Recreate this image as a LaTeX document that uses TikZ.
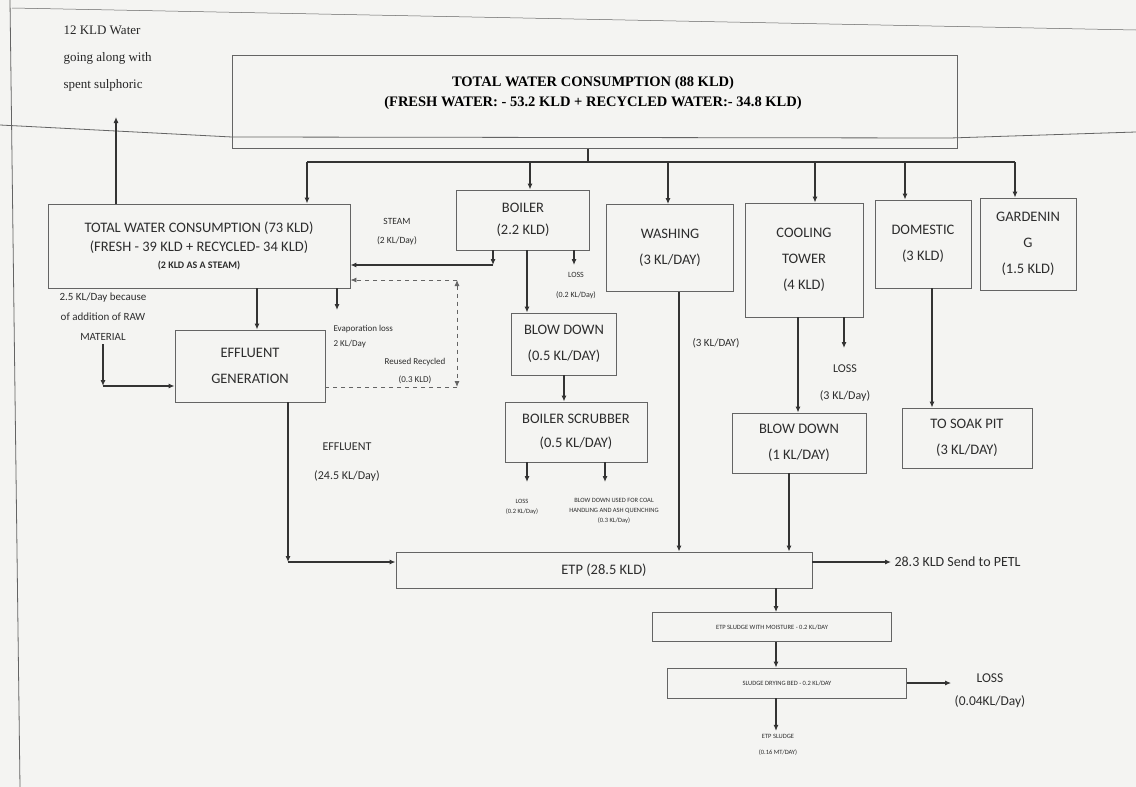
\documentclass[tikz,border=0pt]{standalone}
\usepackage{fontspec}
\setmainfont{Carlito}
\newfontfamily\serifbold{Liberation Serif}
\usetikzlibrary{arrows.meta,positioning,calc}
\definecolor{scanbg}{RGB}{244,244,242}
\definecolor{inkgray}{RGB}{45,45,45}
\definecolor{boxgray}{RGB}{100,100,100}

\begin{document}
\begin{tikzpicture}[x=1pt,y=-1pt,>={Latex[length=6pt,width=5pt]},
  every node/.style={font=\fontsize{14.5}{26}\selectfont,text=inkgray,align=center},
  flowbox/.style={draw=boxgray,line width=0.9pt,inner sep=2pt},
  note/.style={font=\fontsize{11}{20}\selectfont},
  smalltxt/.style={font=\fontsize{6.5}{10}\selectfont},
  flow/.style={draw=black!80,line width=1.1pt},
  recyc/.style={draw=boxgray,line width=0.9pt,dash pattern=on 4pt off 4pt}]
\fill[scanbg] (0,0) rectangle (1136,787);
\useasboundingbox (0,0) rectangle (1136,787);
% page edges of the scan
\draw[boxgray,line width=0.8pt] (10,0) -- (20,787);
\draw[boxgray,line width=0.5pt] (12,8) -- (1136,30);
\draw[boxgray,line width=0.8pt] (0,125) -- (232,137) -- (950,138) -- (1136,132);

% top
\node[flowbox,minimum width=725,minimum height=93] (tot) at (595,102) {};
\node[font=\serifbold\bfseries\fontsize{14.5}{20}\selectfont,text=black] (totlbl) at (593,93)
  {TOTAL WATER CONSUMPTION (88 KLD)\\(FRESH WATER: - 53.2 KLD + RECYCLED WATER:- 34.8 KLD)};
\node[font=\serifbold\fontsize{13}{27}\selectfont,text=black!85,align=left,anchor=north west] (sulph) at (60,22)
  {12 KLD Water\\going along with\\spent sulphoric};

% consumers
\node[flowbox,minimum width=302,minimum height=84] (twc) at (199,246)
  {TOTAL WATER CONSUMPTION (73 KLD)\\[-7pt](FRESH - 39 KLD + RECYCLED- 34 KLD)\\[-9pt]{\fontsize{10}{12}\selectfont\bfseries (2 KLD AS A STEAM)}};
\node[flowbox,minimum width=133,minimum height=60] (blr) at (523,220) {BOILER\\[-4pt](2.2 KLD)};
\node[flowbox,minimum width=127,minimum height=87] (wash) at (670,248) {WASHING\\(3 KL/DAY)};
\node[flowbox,minimum width=118,minimum height=114] (ct) at (804,260) {COOLING\\TOWER\\(4 KLD)};
\node[flowbox,minimum width=96,minimum height=88] (dom) at (923,244) {DOMESTIC\\(3 KLD)};
\node[flowbox,minimum width=96,minimum height=92] (gdn) at (1028,244) {GARDENIN\\G\\(1.5 KLD)};

% second level
\node[flowbox,minimum width=150,minimum height=72] (effl) at (250,366) {EFFLUENT\\GENERATION};
\node[flowbox,minimum width=105,minimum height=62] (bd1) at (564,344) {BLOW DOWN\\(0.5 KL/DAY)};
\node[flowbox,minimum width=142,minimum height=60] (scr) at (576,432) {BOILER SCRUBBER\\[-2pt](0.5 KL/DAY)};
\node[flowbox,minimum width=134,minimum height=60] (bd2) at (799,443) {BLOW DOWN\\(1 KL/DAY)};
\node[flowbox,minimum width=130,minimum height=60] (pit) at (967,438) {TO SOAK PIT\\(3 KL/DAY)};

% treatment
\node[flowbox,minimum width=416,minimum height=36] (etp) at (604,570) {ETP (28.5 KLD)};
\node[flowbox,smalltxt,minimum width=239,minimum height=29] (sl) at (772,627) {ETP SLUDGE WITH MOISTURE - 0.2 KL/DAY};
\node[flowbox,smalltxt,minimum width=239,minimum height=30] (sdb) at (787,683) {SLUDGE DRYING BED - 0.2 KL/DAY};

% labels
\node[note,font=\fontsize{9.5}{19}\selectfont] (steam) at (397,232) {STEAM\\(2 KL/Day)};
\node[smalltxt,font=\fontsize{8}{20}\selectfont] (blrloss) at (576,286) {LOSS\\(0.2 KL/Day)};
\node[note] (raw) at (103,317) {2.5 KL/Day because\\of addition of RAW\\MATERIAL};
\node[note,font=\fontsize{9}{15}\selectfont,align=left,anchor=west] (evap) at (330,337) {Evaporation loss\\2 KL/Day};
\node[note,font=\fontsize{9}{18}\selectfont] (reuse) at (415,371) {Reused Recycled\\(0.3 KLD)};
\node[note,font=\fontsize{12}{29}\selectfont] (efflq) at (347,462) {EFFLUENT\\(24.5 KL/Day)};
\node[note] (washq) at (716,343) {(3 KL/DAY)};
\node[note,font=\fontsize{12}{27}\selectfont] (ctloss) at (845,383) {LOSS\\(3 KL/Day)};
\node[smalltxt] (scrloss) at (522,507) {LOSS\\(0.2 KL/Day)};
\node[smalltxt] (coal) at (614,511) {BLOW DOWN USED FOR COAL\\HANDLING AND ASH QUENCHING\\(0.3 KL/Day)};
\node[font=\fontsize{14}{20}\selectfont,anchor=west] (petl) at (891,562) {28.3 KLD Send to PETL};
\node[font=\fontsize{13.5}{23}\selectfont] (loss2) at (990,691) {LOSS\\(0.04KL/Day)};
\node[smalltxt,font=\fontsize{6.5}{16}\selectfont] (etpsl) at (778,745) {ETP SLUDGE\\(0.16 MT/DAY)};

% distribution header
\coordinate (bt) at (588,162);
\coordinate (busL) at (307,162);
\coordinate (busR) at (1015,162);
\draw[flow] (bt |- tot.south) -- (bt);
\draw[flow] (busL) -- (busR);
\foreach \n/\x in {twc/307,blr/530,wash/668,ct/815,dom/905,gdn/1015}{
  \coordinate (d\n) at (\x,162);
  \draw[flow,->] (d\n) -- (d\n |- \n.north);
}
\coordinate (sp) at (116,117);
\draw[flow,->] (sp |- twc.north) -- (sp);

% boiler
\coordinate (stm) at (493,265);
\draw[flow,->] (stm |- blr.south) -- (stm);
\draw[flow,->] (stm) -- (stm -| twc.east);
\coordinate (bl) at (574,265);
\draw[flow,->] (bl |- blr.south) -- (bl);
\coordinate (b2) at (527,0);
\draw[flow,->] (b2 |- blr.south) -- (b2 |- bd1.north);
\draw[flow,->] (bd1.south) -- (bd1.south |- scr.north);
\coordinate (s1) at (527,482);
\coordinate (s2) at (605,482);
\draw[flow,->] (s1 |- scr.south) -- (s1);
\draw[flow,->] (s2 |- scr.south) -- (s2);

% effluent side
\coordinate (e1) at (257,0);
\draw[flow,->] (e1 |- twc.south) -- (e1 |- effl.north);
\coordinate (ev) at (337,310);
\draw[flow,->] (ev |- twc.south) -- (ev);
\coordinate (rw) at (103,386);
\draw[flow,->] (raw.south) -- (rw);
\draw[flow,->] (rw) -- (rw -| effl.west);
\coordinate (rtop) at (457,280);
\coordinate (rbot) at (457,387);
\draw[recyc,->] (rtop) -- (rtop -| twc.east);
\draw[recyc,<->] (rtop) -- (rbot);
\draw[recyc] (rbot) -- (rbot -| effl.east);
\coordinate (f1) at (288,562);
\draw[flow,->] (f1 |- effl.south) -- (f1);
\draw[flow,->] (f1) -- (f1 -| etp.west);

% washing, cooling tower, domestic
\coordinate (w1) at (679,0);
\draw[flow,->] (w1 |- wash.south) -- (w1 |- etp.north);
\coordinate (c1) at (798,0);
\draw[flow,->] (c1 |- ct.south) -- (c1 |- bd2.north);
\coordinate (c2) at (844,348);
\draw[flow,->] (c2 |- ct.south) -- (c2);
\coordinate (c3) at (789,0);
\draw[flow,->] (c3 |- bd2.south) -- (c3 |- etp.north);
\coordinate (dd) at (932,0);
\draw[flow,->] (dd |- dom.south) -- (dd |- pit.north);

% ETP chain
\coordinate (pt) at (812,562);
\draw[flow,->] (pt) -- (petl.west);
\coordinate (k) at (776,0);
\draw[flow,->] (k |- etp.south) -- (k |- sl.north);
\draw[flow,->] (k |- sl.south) -- (k |- sdb.north);
\draw[flow,->] (k |- sdb.south) -- (k |- etpsl.north);
\draw[flow,->] (sdb.east) -- (sdb.east -| loss2.west);
\end{tikzpicture}
\end{document}
